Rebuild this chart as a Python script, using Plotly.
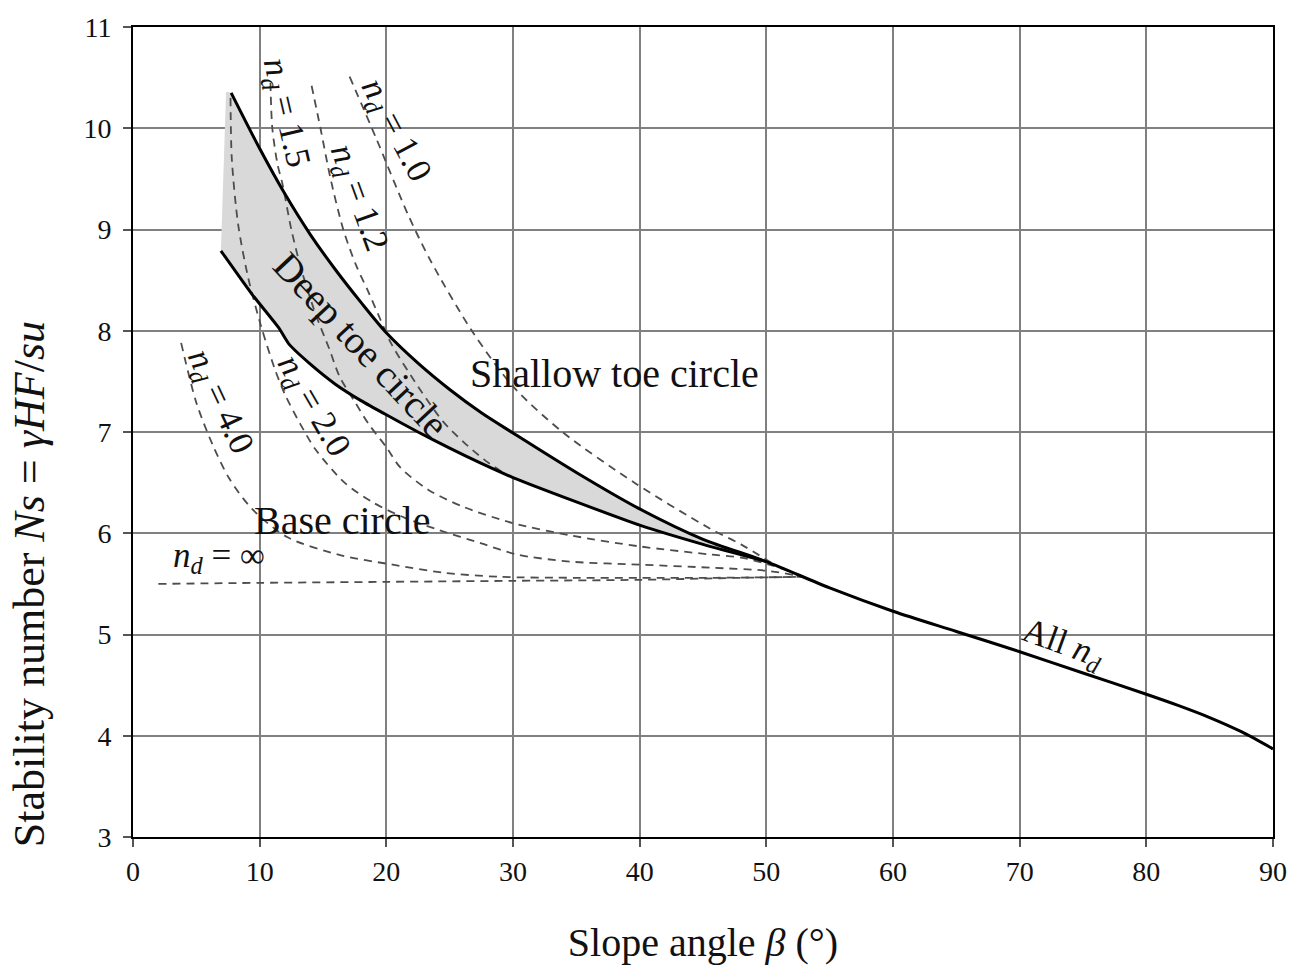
import plotly.graph_objects as go

# ---------------- data ----------------
slope_ticks = list(range(0, 91, 10))
ns_ticks = list(range(3, 12))

# Deep toe circle band: upper boundary (solid) and lower boundary (solid)
upper_x = [7.75, 10.0, 12.0, 14.0, 16.0, 18.0, 20.0, 22.5, 25.0, 27.5, 30.0, 35.0, 40.0, 45.0, 50.0]
upper_y = [10.35, 9.80, 9.35, 8.95, 8.60, 8.28, 7.98, 7.68, 7.42, 7.19, 6.99, 6.60, 6.24, 5.94, 5.72]
lower_x = [6.94, 9.4, 11.5, 12.3, 14.0, 16.0, 18.0, 20.0, 22.5, 25.0, 27.5, 30.0, 35.0, 40.0, 45.0, 50.0]
lower_y = [8.79, 8.36, 8.03, 7.87, 7.67, 7.47, 7.31, 7.17, 7.00, 6.84, 6.69, 6.55, 6.31, 6.08, 5.89, 5.72]
band_corner_x = [7.35]
band_corner_y = [10.36]

# All n_d (single curve beyond the merge)
all_x = [50.0, 55.0, 60.0, 65.0, 70.0, 75.0, 80.0, 82.5, 85.0, 87.5, 90.0]
all_y = [5.72, 5.46, 5.23, 5.03, 4.83, 4.62, 4.41, 4.30, 4.18, 4.04, 3.87]

# dashed n_d curves
nd10_x = [17.1, 19.2, 21.7, 23.5, 26.8, 30.0, 33.9, 39.7, 45.5, 48.0, 50.5]
nd10_y = [10.51, 9.90, 9.15, 8.69, 7.99, 7.45, 7.00, 6.49, 6.05, 5.89, 5.70]

nd12_x = [14.1, 14.8, 15.6, 16.6, 17.6, 18.6, 19.5, 20.4, 22.5, 24.5, 26.1, 27.7, 29.2]
nd12_y = [10.42, 10.00, 9.50, 9.00, 8.65, 8.38, 8.12, 7.87, 7.45, 7.10, 6.90, 6.73, 6.60]

nd15_x = [10.85, 11.0, 11.4, 11.8, 12.5, 13.3, 14.4, 15.5, 16.3, 17.5, 18.6, 20.0, 21.1, 23.3, 26.1,
          30.0, 34.5, 40.0, 45.6, 48.0, 50.5, 53.0]
nd15_y = [10.45, 10.00, 9.65, 9.45, 9.00, 8.60, 8.17, 7.82, 7.55, 7.30, 7.08, 6.85, 6.65, 6.43, 6.26,
          6.10, 5.98, 5.87, 5.79, 5.76, 5.68, 5.57]

nd20_x = [7.7, 7.8, 8.3, 9.1, 10.1, 11.2, 12.0, 13.2, 14.4, 16.7, 19.0, 21.5, 24.2, 27.5, 30.3,
          34.5, 40.0, 45.6, 50.0, 53.0]
nd20_y = [10.30, 9.70, 9.05, 8.52, 8.05, 7.62, 7.37, 7.08, 6.83, 6.50, 6.30, 6.15, 6.03, 5.90, 5.79,
          5.72, 5.69, 5.66, 5.63, 5.57]

nd40_x = [3.8, 5.0, 6.3, 7.6, 9.4, 12.2, 16.5, 20.5, 24.5, 28.9, 35.0, 40.0, 46.0, 53.0]
nd40_y = [7.88, 7.29, 6.87, 6.54, 6.24, 5.96, 5.78, 5.69, 5.61, 5.57, 5.56, 5.56, 5.56, 5.57]

ndinf_x = [2.0, 10.0, 20.0, 30.0, 40.0, 48.0, 53.0]
ndinf_y = [5.50, 5.51, 5.52, 5.53, 5.54, 5.56, 5.57]

# ---------------- figure ----------------
SERIF = "Liberation Serif, Times New Roman, serif"
DASH_COLOR = "#4d4d4d"

fig = go.Figure()

# shaded band
band_x = band_corner_x + upper_x + lower_x[::-1]
band_y = band_corner_y + upper_y + lower_y[::-1]
fig.add_trace(go.Scatter(x=band_x, y=band_y, mode="lines", fill="toself",
                         fillcolor="#d9d9d9", line=dict(width=0),
                         hoverinfo="skip", showlegend=False))

dashed = [(nd10_x, nd10_y), (nd12_x, nd12_y), (nd15_x, nd15_y), (nd20_x, nd20_y),
          (nd40_x, nd40_y), (ndinf_x, ndinf_y)]
for dx, dy in dashed:
    fig.add_trace(go.Scatter(x=dx, y=dy, mode="lines",
                             line=dict(color=DASH_COLOR, width=1.8, dash="8px,6px",
                                       shape="spline", smoothing=0.8),
                             showlegend=False))

fig.add_trace(go.Scatter(x=upper_x + all_x[1:], y=upper_y + all_y[1:], mode="lines",
                         line=dict(color="black", width=3, shape="spline", smoothing=0.8),
                         showlegend=False))
fig.add_trace(go.Scatter(x=lower_x, y=lower_y, mode="lines",
                         line=dict(color="black", width=3, shape="spline", smoothing=0.5),
                         showlegend=False))

def nd(label):
    return "<i>n</i><sub><i>d</i></sub> = " + label

annots = [
    dict(x=38.0, y=7.58, text="Shallow toe circle", textangle=0, size=40),
    dict(x=16.5, y=6.13, text="Base circle", textangle=0, size=40),
    dict(x=18.0, y=7.86, text="Deep toe circle", textangle=47, size=39),
    dict(x=20.7, y=9.98, text=nd("1.0"), textangle=62, size=35),
    dict(x=17.8, y=9.31, text=nd("1.2"), textangle=70, size=35),
    dict(x=12.05, y=10.15, text=nd("1.5"), textangle=77, size=35),
    dict(x=14.2, y=7.25, text=nd("2.0"), textangle=60, size=35),
    dict(x=6.8, y=7.30, text=nd("4.0"), textangle=65, size=35),
    dict(x=6.8, y=5.76, text=nd("∞"), textangle=0, size=35),
    dict(x=73.4, y=4.90, text="All " + "<i>n</i><sub><i>d</i></sub>", textangle=20, size=35),
]
for a in annots:
    fig.add_annotation(x=a["x"], y=a["y"], xref="x", yref="y", text=a["text"],
                       textangle=a["textangle"], showarrow=False,
                       font=dict(family=SERIF, size=a["size"], color="#111"))

# y-axis title (placed like the reference, below the vertical centre)
fig.add_annotation(x=-0.0913, y=0.312, xref="paper", yref="paper",
                   text="Stability number <i>Ns</i> = <i>γHF</i>/<i>su</i>",
                   textangle=-90, showarrow=False, xanchor="center", yanchor="middle",
                   font=dict(family=SERIF, size=44, color="#111"))

axis_common = dict(showline=True, linecolor="black", linewidth=2, mirror=True,
                   showgrid=True, gridcolor="#808080", gridwidth=2, zeroline=False,
                   ticks="outside", ticklen=8, tickwidth=1.5, tickcolor="#555",
                   tickfont=dict(family=SERIF, size=28, color="#111"))

fig.update_xaxes(range=[0, 90], tickvals=slope_ticks, ticktext=[str(v) for v in slope_ticks],
                 title=dict(text="Slope angle <i>β</i> (°)", font=dict(family=SERIF, size=40, color="#111"),
                            standoff=42),
                 **axis_common)
fig.update_yaxes(range=[3, 11], tickvals=ns_ticks, ticktext=[str(v) for v in ns_ticks],
                 ticklabelstandoff=6, **axis_common)

fig.update_layout(width=1299, height=969, margin=dict(l=133, r=16, t=23, b=131),
                  plot_bgcolor="white", paper_bgcolor="white", showlegend=False)

fig.write_html("out.html")
